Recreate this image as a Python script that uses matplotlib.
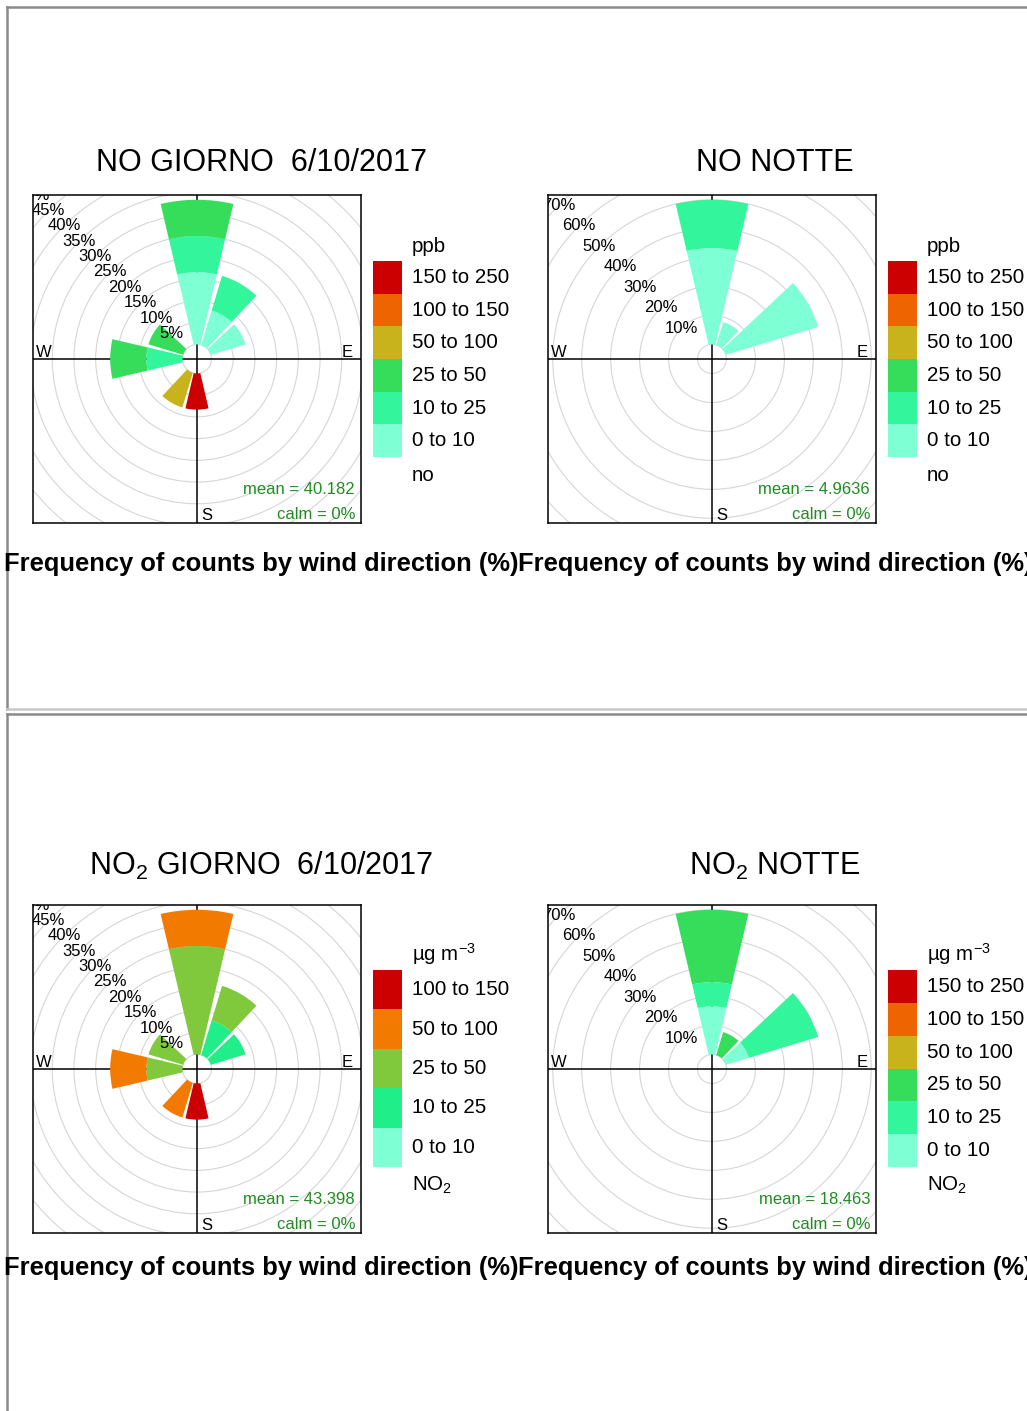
import numpy as np
import matplotlib.pyplot as plt
from matplotlib.patches import Wedge, Circle, Rectangle
from matplotlib.lines import Line2D

plt.rcParams['font.family'] = ['Liberation Sans', 'DejaVu Sans']
plt.rcParams['mathtext.fontset'] = 'custom'
plt.rcParams['mathtext.rm'] = 'Liberation Sans'
plt.rcParams['mathtext.it'] = 'Liberation Sans:italic'
plt.rcParams['mathtext.bf'] = 'Liberation Sans:bold'

W, H = 1027, 1411

# wind sectors, degrees from north
sectors = [0, 30, 60, 180, 210, 270, 300]

# NO (ppb) bins and colours
no_bins = ["0 to 10", "10 to 25", "25 to 50", "50 to 100", "100 to 150", "150 to 250"]
no_cols = ["#7fffd4", "#33f59b", "#35dd5a", "#c9b31c", "#ee6400", "#cc0000"]

# NO2 day has one bin less
no2d_bins = ["0 to 10", "10 to 25", "25 to 50", "50 to 100", "100 to 150"]
no2d_cols = ["#7fffd4", "#20ee88", "#80c83c", "#f27a00", "#cc0000"]

# frequency (%) per sector (rows follow sectors), one column per bin
no_day = np.array([
    [16.67, 8.33, 8.33, 0, 0, 0],
    [8.33, 8.33, 0, 0, 0, 0],
    [8.33, 0, 0, 0, 0, 0],
    [0, 0, 0, 0, 0, 8.33],
    [0, 0, 0, 8.33, 0, 0],
    [0, 8.33, 8.33, 0, 0, 0],
    [0, 0, 8.33, 0, 0, 0],
])
no_night = np.array([
    [33.33, 16.67, 0, 0, 0, 0],
    [8.33, 0, 0, 0, 0, 0],
    [33.33, 0, 0, 0, 0, 0],
    [0, 0, 0, 0, 0, 0],
    [0, 0, 0, 0, 0, 0],
    [0, 0, 0, 0, 0, 0],
    [0, 0, 0, 0, 0, 0],
])
no2_day = np.array([
    [0, 0, 25.0, 8.33, 0],
    [0, 8.33, 8.33, 0, 0],
    [0, 8.33, 0, 0, 0],
    [0, 0, 0, 0, 8.33],
    [0, 0, 0, 8.33, 0],
    [0, 0, 8.33, 8.33, 0],
    [0, 0, 8.33, 0, 0],
])
no2_night = np.array([
    [16.67, 8.33, 25.0, 0, 0, 0],
    [0, 0, 8.33, 0, 0, 0],
    [8.33, 25.0, 0, 0, 0, 0],
    [0, 0, 0, 0, 0, 0],
    [0, 0, 0, 0, 0, 0],
    [0, 0, 0, 0, 0, 0],
    [0, 0, 0, 0, 0, 0],
])

means = ["40.182", "4.9636", "43.398", "18.463"]
titles = ["NO GIORNO  6/10/2017", "NO NOTTE",
          "NO$_2$ GIORNO  6/10/2017", "NO$_2$ NOTTE"]

fig = plt.figure(figsize=(W / 100, H / 100), dpi=100)


def fx(x):
    return x / W


def fy(y):
    return 1 - y / H


def rose(x0, y0, freq, cols, step, mean):
    ax = fig.add_axes([fx(x0), fy(y0 + 328), 328 / W, 328 / H])
    tot = freq.sum(axis=1)
    mx = tot.max()
    off = 0.1 * mx
    lim = 1.03 * (mx + off)
    ax.set_xlim(-lim, lim)
    ax.set_ylim(-lim, lim)
    ax.set_xticks([])
    ax.set_yticks([])
    for s in ax.spines.values():
        s.set_linewidth(1.1)
    for r in off + np.arange(0, 2 * mx + step, step):
        ax.add_patch(Circle((0, 0), r, fill=False, ec='#d6d6d6', lw=0.8, zorder=1))
    ax.axhline(0, color='black', lw=1.1, zorder=2)
    ax.axvline(0, color='black', lw=1.1, zorder=2)
    for d, row in zip(sectors, freq):
        base = off
        for f, c in zip(row, cols):
            if f > 0:
                ax.add_patch(Wedge((0, 0), base + f, 90 - d - 13.2, 90 - d + 13.2,
                                   width=f, fc=c, ec='none', zorder=3))
                base += f
    a = np.deg2rad(135)
    for v in np.arange(step, 2 * mx, step):
        r = off + v
        ax.text(r * np.cos(a), r * np.sin(a), f"{v:g}%", ha='center', va='center',
                fontsize=12, clip_on=True, zorder=4)
    ax.text(0.009, 0.506, "W", transform=ax.transAxes, fontsize=12, ha='left', va='baseline')
    ax.text(0.975, 0.506, "E", transform=ax.transAxes, fontsize=12, ha='right', va='baseline')
    ax.text(0.512, 0.009, "S", transform=ax.transAxes, fontsize=12, ha='left', va='baseline')
    ax.text(0.982, 0.088, f"mean = {mean}", transform=ax.transAxes, fontsize=12,
            ha='right', va='baseline', color='forestgreen', zorder=5)
    ax.text(0.982, 0.011, "calm = 0%", transform=ax.transAxes, fontsize=12,
            ha='right', va='baseline', color='forestgreen', zorder=5)
    return ax


def legend(xb, ytop, ybot, bins, cols, unit, foot):
    n = len(bins)
    hgt = (ybot - ytop) / n
    for i, (b, c) in enumerate(zip(bins[::-1], cols[::-1])):
        yt = ytop + i * hgt
        fig.add_artist(Rectangle((fx(xb), fy(yt + hgt)), 29 / W, hgt / H,
                                 transform=fig.transFigure, fc=c, ec='none'))
        fig.text(fx(xb + 39), fy(yt + hgt / 2), b, fontsize=14.8, va='center', ha='left')
    fig.text(fx(xb + 39), fy(ytop - 9), unit, fontsize=14.8, va='baseline', ha='left')
    fig.text(fx(xb + 39), fy(ybot + 24), foot, fontsize=14.8, va='baseline', ha='left')


rose(33, 195, no_day, no_cols, 5, means[0])
rose(548, 195, no_night, no_cols, 10, means[1])
rose(33, 905, no2_day, no2d_cols, 5, means[2])
rose(548, 905, no2_night, no_cols, 10, means[3])

legend(373, 261, 457, no_bins, no_cols, "ppb", "no")
legend(888, 261, 457, no_bins, no_cols, "ppb", "no")
legend(373, 970, 1167, no2d_bins, no2d_cols, "µg m$^{-3}$", "NO$_2$")
legend(888, 970, 1167, no_bins, no_cols, "µg m$^{-3}$", "NO$_2$")

# titles and captions
for i, t in enumerate(titles):
    cx = [261, 775][i % 2]
    yb = [171, 875][i // 2]
    fig.text(fx(cx), fy(yb), t, fontsize=22, ha='center', va='baseline')
    fig.text(fx(cx), fy(yb + 400), "Frequency of counts by wind direction (%)",
             fontsize=18.4, fontweight='bold', ha='center', va='baseline')

# page frames
for (x1, y1, x2, y2, c, lw) in [(6.5, 6.5, W, 6.5, '#8a8a8a', 1.8),
                                (6.5, 6.5, 6.5, 708.5, '#8a8a8a', 1.8),
                                (6.5, 708.5, W, 708.5, '#c8c8c8', 1.8),
                                (6.5, 714, W, 714, '#8a8a8a', 1.8),
                                (6.5, 714, 6.5, H, '#8a8a8a', 1.8)]:
    fig.add_artist(Line2D([fx(x1), fx(x2)], [fy(y1), fy(y2)], color=c, lw=lw,
                          transform=fig.transFigure))

fig.savefig("out.png", dpi=100)
